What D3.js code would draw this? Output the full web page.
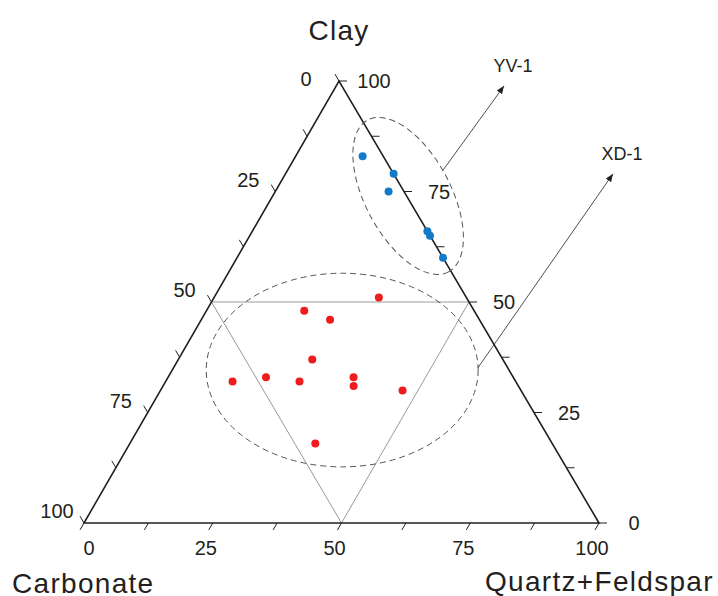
<!DOCTYPE html>
<html lang="en">
<head>
    <meta charset="UTF-8"/>
    <title>Ternary diagram</title>
    <script src="https://d3js.org/d3.v7.min.js"></script>
    <style>
        body { margin: 0; background: #fff; }
        svg { font-family: "Liberation Sans", Arial, sans-serif; }
    </style>
</head>
<body>
    <script>
        // ticks along each side (percent)
        var tickValues = [0, 12.5, 25, 37.5, 50, 62.5, 75, 87.5, 100];
        var labelValues = [0, 25, 50, 75, 100];

        // YV-1 samples (percent)
        var yvClay = [83, 79, 75, 66, 65, 60];
        var yvQF   = [13, 21, 22, 34, 35, 40];
        var yvCarb = [4, 0, 3, 0, 0, 0];

        // XD-1 samples (percent)
        var xdClay = [51, 48, 46, 37, 32, 33, 32, 33, 31, 30, 18];
        var xdQF   = [32, 19, 25, 26, 13, 19, 26, 36, 37, 47, 36];
        var xdCarb = [17, 33, 29, 37, 55, 48, 42, 31, 32, 23, 46];

        var groups = ["YV-1", "XD-1"];
        var groupColors = ["#137ac8", "#ee1c1c"];

        var w = 718;
        var h = 596;

        // vertex positions
        var BL = [84, 523], BR = [599, 523], TOP = [339, 81];

        // scales for the two free components
        var qfScale = d3.scaleLinear().domain([0, 100]).range([0, 1]);
        var clayScale = d3.scaleLinear().domain([0, 100]).range([0, 1]);

        function project(clay, qf) {
            var a = qfScale(qf), b = clayScale(clay);
            return [
                BL[0] + a * (BR[0] - BL[0]) + b * (TOP[0] - BL[0]),
                BL[1] + a * (BR[1] - BL[1]) + b * (TOP[1] - BL[1])
            ];
        }

        var svg = d3.select("body")
            .append("svg")
            .attr("width", w)
            .attr("height", h);

        // inner triangle joining the 50% points
        var mids = [project(50, 0), project(50, 50), project(0, 50)];
        svg.append("path")
            .attr("d", "M" + mids.join("L") + "Z")
            .attr("fill", "none")
            .attr("stroke", "#9a9a9a")
            .attr("stroke-width", 1);

        // outer triangle
        svg.append("path")
            .attr("d", "M" + [BL, BR, TOP].join("L") + "Z")
            .attr("fill", "none")
            .attr("stroke", "#231f20")
            .attr("stroke-width", 1.6)
            .attr("stroke-linejoin", "miter");

        var tl = 8;
        var rightLen = Math.hypot(BR[0] - TOP[0], BR[1] - TOP[1]);
        var rdx = (TOP[0] - BR[0]) / rightLen, rdy = (TOP[1] - BR[1]) / rightLen;
        var leftLen = Math.hypot(BL[0] - TOP[0], BL[1] - TOP[1]);
        var ldx = (BL[0] - TOP[0]) / leftLen, ldy = (BL[1] - TOP[1]) / leftLen;

        var ticks = svg.append("g").attr("stroke", "#231f20").attr("stroke-width", 1);

        tickValues.forEach(function(v) {
            // bottom axis (Quartz+Feldspar), ticks parallel to left side
            var p = project(0, v);
            ticks.append("line").attr("x1", p[0]).attr("y1", p[1])
                .attr("x2", p[0] + ldx * tl).attr("y2", p[1] + ldy * tl);
            // right axis (Clay), horizontal ticks
            var r = project(v, 100 - v);
            ticks.append("line").attr("x1", r[0]).attr("y1", r[1])
                .attr("x2", r[0] + tl).attr("y2", r[1]);
            // left axis (Carbonate), ticks parallel to right side
            var l = project(100 - v, 0);
            ticks.append("line").attr("x1", l[0]).attr("y1", l[1])
                .attr("x2", l[0] + rdx * tl).attr("y2", l[1] + rdy * tl);
        });

        var labels = svg.append("g")
            .attr("font-size", 20)
            .attr("fill", "#231f20")
            .attr("text-anchor", "middle")
            .attr("dominant-baseline", "central");

        labelValues.forEach(function(v) {
            var p = project(0, v);
            labels.append("text")
                .attr("x", p[0] + (v === 0 ? 5 : -7))
                .attr("y", p[1] + 25).text(v);
            var r = project(v, 100 - v);
            labels.append("text").attr("x", r[0] + 35).attr("y", r[1]).text(v);
            var l = project(100 - v, 0);
            labels.append("text")
                .attr("x", l[0] + (v === 0 ? -33 : -27))
                .attr("y", l[1] + (v === 0 ? -2 : -12)).text(v);
        });

        // axis titles
        var titles = svg.append("g")
            .attr("font-size", 28)
            .attr("letter-spacing", 1.3)
            .attr("fill", "#231f20");
        titles.append("text").attr("x", TOP[0]).attr("y", 40)
            .attr("text-anchor", "middle").text("Clay");
        titles.append("text").attr("x", 12).attr("y", 593).text("Carbonate");
        titles.append("text").attr("x", 485).attr("y", 591).text("Quartz+Feldspar");

        // group outlines: centre [clay, qf], semi-axes in percent of side, rotation
        var ellClay = [74, 34.6];
        var ellQF = [26.3, 33.0];
        var ellRx = [16.7, 26.4];
        var ellRy = [8.3, 18.8];
        var ellRot = [62, 0];

        var side = BR[0] - BL[0];
        groups.forEach(function(g, i) {
            var c = project(ellClay[i], ellQF[i]);
            svg.append("ellipse")
                .attr("transform", "translate(" + c[0] + "," + c[1] + ") rotate(" + ellRot[i] + ")")
                .attr("rx", qfScale(ellRx[i]) * side)
                .attr("ry", qfScale(ellRy[i]) * side)
                .attr("fill", "none")
                .attr("stroke", "#555")
                .attr("stroke-width", 1)
                .attr("stroke-dasharray", "6,4");
        });

        // arrows from the outlines to the group labels: [clay, qf] start and end
        var arrowStartClay = [79.9, 35.1], arrowStartQF = [30.2, 59.1];
        var arrowEndClay = [98.9, 79.0], arrowEndQF = [32.6, 63.6];

        svg.append("defs").append("marker")
            .attr("id", "arrow")
            .attr("viewBox", "0 0 10 10")
            .attr("refX", 10).attr("refY", 5)
            .attr("markerWidth", 8).attr("markerHeight", 8)
            .attr("markerUnits", "userSpaceOnUse")
            .attr("orient", "auto")
            .append("path")
            .attr("d", "M0,1L10,5L0,9Z")
            .attr("fill", "#231f20");

        groups.forEach(function(g, i) {
            var s = project(arrowStartClay[i], arrowStartQF[i]);
            var e = project(arrowEndClay[i], arrowEndQF[i]);
            svg.append("line")
                .attr("x1", s[0]).attr("y1", s[1])
                .attr("x2", e[0]).attr("y2", e[1])
                .attr("stroke", "#231f20")
                .attr("stroke-width", 0.8)
                .attr("marker-end", "url(#arrow)");
            svg.append("text")
                .attr("x", e[0] + 9).attr("y", e[1] - 20)
                .attr("text-anchor", "middle")
                .attr("dominant-baseline", "central")
                .attr("font-size", 18)
                .attr("fill", "#231f20")
                .text(g);
        });

        // sample points
        var sets = [[yvClay, yvQF, yvCarb], [xdClay, xdQF, xdCarb]];
        sets.forEach(function(s, i) {
            svg.append("g").selectAll("circle")
                .data(d3.range(s[0].length))
                .enter()
                .append("circle")
                .attr("cx", function(j) { return project(s[0][j], s[1][j])[0]; })
                .attr("cy", function(j) { return project(s[0][j], s[1][j])[1]; })
                .attr("r", 4)
                .attr("fill", groupColors[i]);
        });
    </script>
</body>
</html>
